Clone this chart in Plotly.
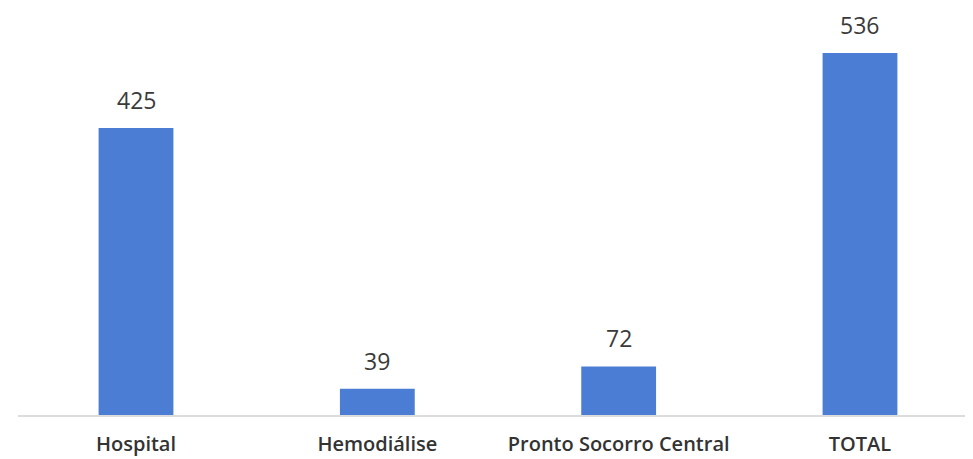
import plotly.graph_objects as go

categories = ["Hospital", "Hemodiálise", "Pronto Socorro Central", "TOTAL"]
values = [425, 39, 72, 536]

bar_color = "#4a7dd3"
text_color = "#3a3a3a"

fig = go.Figure()
fig.add_trace(go.Bar(
    x=categories, y=values,
    marker=dict(color=bar_color, line=dict(width=0)),
    width=0.31,
))

for c, v in zip(categories, values):
    fig.add_annotation(x=c, y=v, text=str(v), showarrow=False,
                       yanchor="bottom", yshift=10,
                       font=dict(size=23, color=text_color, family="Open Sans"))

fig.update_layout(
    width=973, height=459,
    margin=dict(l=10, r=10, t=10, b=46),
    paper_bgcolor="white", plot_bgcolor="white",
    showlegend=False,
    font=dict(family="Open Sans", color=text_color),
    xaxis=dict(
        range=[-0.489, 3.460],
        showline=True, linecolor="#dcdcdc", linewidth=1.5,
        showgrid=False, zeroline=False,
        ticks="outside", ticklen=10, tickcolor="rgba(0,0,0,0)",
        tickfont=dict(size=20, color="#333333", family="Open Sans", weight=600),
    ),
    yaxis=dict(range=[0, 588], visible=False, showgrid=False, zeroline=False),
)

fig.write_html("out.html")
